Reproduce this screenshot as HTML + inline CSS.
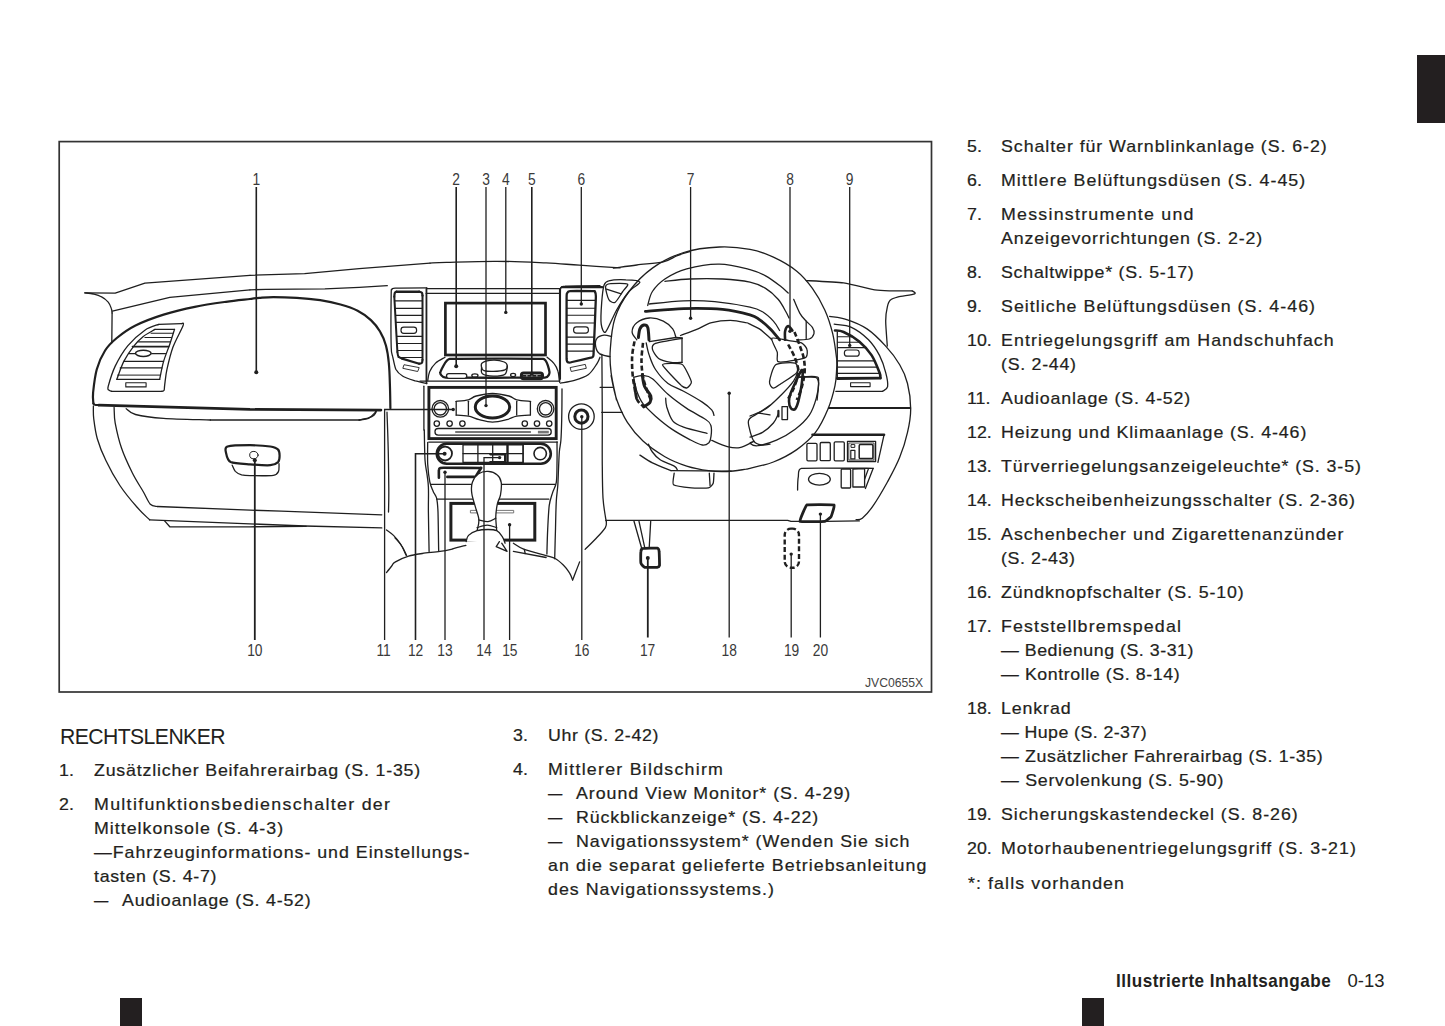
<!DOCTYPE html>
<html lang="de"><head><meta charset="utf-8"><title>Illustrierte Inhaltsangabe 0-13</title>
<style>
html,body{margin:0;padding:0;background:#fff;font-family:"Liberation Sans",sans-serif;}
body{width:1445px;height:1026px;position:relative;overflow:hidden;font-family:"Liberation Sans",sans-serif;}
.t{position:absolute;white-space:pre;line-height:1;margin:0;padding:0;transform-origin:0 0;}
.blk{position:absolute;background:#231f20;}
svg{position:absolute;left:0;top:0;}
</style></head><body>
<div class="blk" style="left:1417px;top:55px;width:28px;height:68px"></div>
<div class="blk" style="left:120px;top:998px;width:22px;height:28px"></div>
<div class="blk" style="left:1081.5px;top:998px;width:22px;height:28px"></div>
<svg width="1445" height="1026" viewBox="0 0 1445 1026" fill="none" stroke="#1f1f1f" stroke-linecap="round" stroke-linejoin="round">
<rect x="59.2" y="141.6" width="872.3" height="550.4" stroke="#333" stroke-width="1.7" stroke-linejoin="miter"/>
<text x="923.2" y="686.7" font-family="Liberation Sans, sans-serif" font-size="12.2" font-weight="400" text-anchor="end" fill="#444" stroke="none">JVC0655X</text>
<text x="0" y="0" font-family="Liberation Sans, sans-serif" font-size="15.6" font-weight="400" text-anchor="middle" fill="#3a3a3a" stroke="none" transform="translate(256.3 184.9) scale(0.885 1)">1</text>
<text x="0" y="0" font-family="Liberation Sans, sans-serif" font-size="15.6" font-weight="400" text-anchor="middle" fill="#3a3a3a" stroke="none" transform="translate(456.2 184.9) scale(0.885 1)">2</text>
<text x="0" y="0" font-family="Liberation Sans, sans-serif" font-size="15.6" font-weight="400" text-anchor="middle" fill="#3a3a3a" stroke="none" transform="translate(486 184.9) scale(0.885 1)">3</text>
<text x="0" y="0" font-family="Liberation Sans, sans-serif" font-size="15.6" font-weight="400" text-anchor="middle" fill="#3a3a3a" stroke="none" transform="translate(505.8 184.9) scale(0.885 1)">4</text>
<text x="0" y="0" font-family="Liberation Sans, sans-serif" font-size="15.6" font-weight="400" text-anchor="middle" fill="#3a3a3a" stroke="none" transform="translate(531.8 184.9) scale(0.885 1)">5</text>
<text x="0" y="0" font-family="Liberation Sans, sans-serif" font-size="15.6" font-weight="400" text-anchor="middle" fill="#3a3a3a" stroke="none" transform="translate(581.3 184.9) scale(0.885 1)">6</text>
<text x="0" y="0" font-family="Liberation Sans, sans-serif" font-size="15.6" font-weight="400" text-anchor="middle" fill="#3a3a3a" stroke="none" transform="translate(690.6 184.9) scale(0.885 1)">7</text>
<text x="0" y="0" font-family="Liberation Sans, sans-serif" font-size="15.6" font-weight="400" text-anchor="middle" fill="#3a3a3a" stroke="none" transform="translate(790 184.9) scale(0.885 1)">8</text>
<text x="0" y="0" font-family="Liberation Sans, sans-serif" font-size="15.6" font-weight="400" text-anchor="middle" fill="#3a3a3a" stroke="none" transform="translate(849.7 184.9) scale(0.885 1)">9</text>
<text x="0" y="0" font-family="Liberation Sans, sans-serif" font-size="15.6" font-weight="400" text-anchor="middle" fill="#3a3a3a" stroke="none" transform="translate(254.8 656.3) scale(0.885 1)">10</text>
<text x="0" y="0" font-family="Liberation Sans, sans-serif" font-size="15.6" font-weight="400" text-anchor="middle" fill="#3a3a3a" stroke="none" transform="translate(383.6 656.3) scale(0.885 1)">11</text>
<text x="0" y="0" font-family="Liberation Sans, sans-serif" font-size="15.6" font-weight="400" text-anchor="middle" fill="#3a3a3a" stroke="none" transform="translate(415.6 656.3) scale(0.885 1)">12</text>
<text x="0" y="0" font-family="Liberation Sans, sans-serif" font-size="15.6" font-weight="400" text-anchor="middle" fill="#3a3a3a" stroke="none" transform="translate(445 656.3) scale(0.885 1)">13</text>
<text x="0" y="0" font-family="Liberation Sans, sans-serif" font-size="15.6" font-weight="400" text-anchor="middle" fill="#3a3a3a" stroke="none" transform="translate(484 656.3) scale(0.885 1)">14</text>
<text x="0" y="0" font-family="Liberation Sans, sans-serif" font-size="15.6" font-weight="400" text-anchor="middle" fill="#3a3a3a" stroke="none" transform="translate(509.8 656.3) scale(0.885 1)">15</text>
<text x="0" y="0" font-family="Liberation Sans, sans-serif" font-size="15.6" font-weight="400" text-anchor="middle" fill="#3a3a3a" stroke="none" transform="translate(581.8 656.3) scale(0.885 1)">16</text>
<text x="0" y="0" font-family="Liberation Sans, sans-serif" font-size="15.6" font-weight="400" text-anchor="middle" fill="#3a3a3a" stroke="none" transform="translate(647.6 656.3) scale(0.885 1)">17</text>
<text x="0" y="0" font-family="Liberation Sans, sans-serif" font-size="15.6" font-weight="400" text-anchor="middle" fill="#3a3a3a" stroke="none" transform="translate(729.2 656.3) scale(0.885 1)">18</text>
<text x="0" y="0" font-family="Liberation Sans, sans-serif" font-size="15.6" font-weight="400" text-anchor="middle" fill="#3a3a3a" stroke="none" transform="translate(791.6 656.3) scale(0.885 1)">19</text>
<text x="0" y="0" font-family="Liberation Sans, sans-serif" font-size="15.6" font-weight="400" text-anchor="middle" fill="#3a3a3a" stroke="none" transform="translate(820.4 656.3) scale(0.885 1)">20</text>
<path d="M84.8 292.8 L115.2 293.1 L144.9 283.1 L250 275.3" stroke-width="1.3"/>
<path d="M84.8 292.8 C86.2 293 90.7 293.4 93.4 294 C96.1 294.7 98.7 295.3 101.2 296.7 C103.7 298 106.5 300.2 108.2 302.1 C109.9 304.1 110.7 306.5 111.3 308.4 C112 310.2 112 312.3 112.1 313" stroke-width="1.3"/>
<path d="M112.1 313 L111.8 342.7" stroke-width="1.3"/>
<path d="M112.4 311.2 L169.8 297.4 L250 289.9" stroke-width="1.3"/>
<path d="M93.4 403.5 C93.3 401.7 92.5 398.3 93.1 392.6 C93.7 386.9 94.8 376.2 96.8 369.2 C98.8 362.2 101.8 355.7 105.1 350.5 C108.4 345.3 111.7 342.2 116.8 338 C121.9 333.8 127.7 329.4 135.5 325.5 C143.3 321.6 153.7 317.7 163.6 314.6 C173.5 311.5 184.4 308.9 194.8 306.8 C205.2 304.7 216.8 303.1 226 301.8 C235.2 300.5 246 299.5 250 299" stroke-width="2.2"/>
<path d="M93.4 403.5 C93.7 403.7 94 404.5 95 404.8 C95.9 405 98.2 405 98.9 405.1" stroke-width="2.2"/>
<path d="M158.9 324.3 C156.6 325.3 150.1 326.6 144.9 330.2 C139.7 333.8 132.7 339.8 127.7 345.8 C122.8 351.8 118.5 359.3 115.2 366.1 C112 372.8 109.3 382.3 108.2 386.3 C107.2 390.4 108.4 389.4 109 390.2 C109.6 391.1 111.3 391.2 111.8 391.3" stroke-width="1.3"/>
<path d="M111.8 391.3 L161.7 391.3" stroke-width="1.3"/>
<path d="M161.7 391.3 C162.1 391.2 163.6 391.3 164.1 390.2 C164.6 389.2 164.2 388.3 164.7 384.8 C165.2 381.3 165.6 375.4 167 369.2 C168.4 362.9 170.3 354.6 172.9 347.3 C175.6 340.1 181.7 329.5 183.1 325.5 C184.5 321.6 181.8 324 181.5 323.6" stroke-width="1.3"/>
<path d="M181.5 323.6 L158.9 324.3" stroke-width="1.3"/>
<path d="M155 329.4 C153.1 330.6 146.8 333.7 143.3 336.4 C139.8 339.2 137.2 341.6 134 345.8 C130.7 349.9 126.7 355.8 123.8 361.4 C121 367 118 376.3 116.8 379.3" stroke-width="1.3"/>
<path d="M116.8 379.3 L159.7 379.3" stroke-width="1.2"/>
<path d="M159.7 379.3 C160.3 376.3 161.9 367.2 163.6 361.4 C165.3 355.5 168 349.6 169.8 344.2 C171.6 338.9 173.7 331.9 174.5 329.4" stroke-width="1.3"/>
<path d="M174.5 329.4 L155 329.4" stroke-width="1.3"/>
<path d="M151.1 333.3 L172.9 333.3" stroke-width="1.1"/>
<path d="M144.9 337.5 L171.4 337.5" stroke-width="1.1"/>
<path d="M138.6 341.9 L170.1 341.9" stroke-width="1.1"/>
<path d="M132.4 346.6 L168.6 346.6" stroke-width="1.6"/>
<path d="M128.5 353.6 L165.5 353.6" stroke-width="1.1"/>
<path d="M123.8 361.4 L163.6 361.4" stroke-width="1.1"/>
<path d="M120.2 367.9 L162 367.9" stroke-width="1.1"/>
<path d="M117.6 375.1 L160.5 375.1" stroke-width="1"/>
<ellipse cx="143.3" cy="353.3" rx="7.8" ry="3.1" stroke-width="1.5" fill="#fff"/>
<rect x="125.8" y="382.8" width="20.3" height="4.1" stroke-width="1.1"/>
<path d="M250 275.3 L304.6 273.7 L359.2 268.6 L430 263.1" stroke-width="1.3"/>
<path d="M250 289.9 L265.6 289.3 L324.9 288.9 L359.2 287.3 L387.3 285.7" stroke-width="1.3"/>
<path d="M250 299 C251.6 298.8 255.5 298.2 259.4 297.9 C263.3 297.6 267.2 297.1 273.4 297.1 C279.6 297.1 289 297.4 296.8 297.9 C304.6 298.4 312.9 299.2 320.2 300.2 C327.5 301.3 334.2 302.7 340.5 304.5 C346.7 306.2 352.6 308.1 357.6 310.7 C362.7 313.3 367.1 316.5 370.9 320.1 C374.7 323.6 377.7 327.5 380.2 331.8 C382.8 336 384.6 340.6 386 345.8 C387.4 351 388.2 356.4 388.8 362.9 C389.5 369.4 389.7 377.2 389.9 384.8 C390.2 392.3 390.3 404.3 390.4 408.2" stroke-width="2.2"/>
<path d="M98.9 405.1 L250 409.4 L381 410.1" stroke-width="2.6"/>
<path d="M376.3 411.6 C376 412.2 375.3 414.2 374 415.2 C372.7 416.2 371 417 368.5 417.9 C366.1 418.7 360.7 419.7 359.2 420" stroke-width="1.3"/>
<path d="M426.7 287.8 C423 287.8 399.1 287.9 395.1 288.1 C391 288.3 392.4 289 391.9 289.6 C391.5 290.3 391.3 286.8 391.2 293.5 C391.1 300.3 391 340 391.2 347.3 C391.3 354.7 392.2 354.2 392.7 356.7 C393.3 359.3 394.7 366.9 395.8 369.2 C397 371.5 400.6 374.8 402.9 376.2 C405.1 377.6 412.6 380 415.3 380.9 C418.1 381.7 425.4 383.2 426.7 383.5" stroke-width="1.3"/>
<path d="M426.7 287.8 L426.7 383.5" stroke-width="1.3"/>
<path d="M396.6 291.7 C396.3 291.9 395.1 292.2 394.8 293.1 C394.4 293.9 394.4 296.1 394.3 296.7" stroke-width="2.2"/>
<path d="M394.3 296.7 L397.4 352" stroke-width="2"/>
<path d="M397.4 352 C397.6 352.8 397.7 355.6 398.5 356.7 C399.3 357.8 401.5 358.3 402.1 358.6" stroke-width="2"/>
<path d="M402.1 358.6 L419.2 363.7" stroke-width="2.2"/>
<path d="M419.2 363.7 C419.7 363.6 421.3 363.6 421.9 362.9 C422.4 362.3 422.4 360.3 422.5 359.8" stroke-width="2.2"/>
<path d="M422.5 359.8 L422.5 295.6" stroke-width="2"/>
<path d="M422.5 295.6 C422.4 295.1 422.4 293.4 421.9 292.8 C421.3 292.1 419.7 291.8 419.2 291.7" stroke-width="2.2"/>
<path d="M419.2 291.7 L396.6 291.7" stroke-width="2.4"/>
<path d="M395.1 300.9 L422.4 300.9" stroke-width="1.1"/>
<path d="M395.5 308.4 L422.4 308.4" stroke-width="1.1"/>
<path d="M395.9 315.4 L422.4 315.4" stroke-width="1.1"/>
<path d="M396.3 322.4 L422.4 322.4" stroke-width="1.1"/>
<path d="M397 336.4 L422.4 336.4" stroke-width="1.1"/>
<path d="M397.4 343.5 L422.4 343.5" stroke-width="1.1"/>
<path d="M397.8 350.5 L422.4 350.5" stroke-width="1.1"/>
<path d="M398.2 357.5 L422.4 357.5" stroke-width="1.1"/>
<rect x="401" y="327.1" width="15.6" height="6.2" stroke-width="1.2" fill="#fff" rx="2.8"/>
<path d="M404.4 364.8 L419.2 367.6 L417.7 371.5 L403.2 368.4 Z" stroke-width="0.9"/>
<path d="M93.4 405.9 C93.4 408 93.1 412.9 93.7 418.4 C94.4 423.9 95.3 431.7 97.3 438.7 C99.3 445.7 102.1 452.7 105.9 460.5 C109.6 468.3 114.7 477.7 119.9 485.5 C125.1 493.3 132.1 501.6 137.1 507.3 C142 513 147.5 517.7 149.6 519.8" stroke-width="1.3"/>
<path d="M149.6 519.8 L304.6 526 L381.8 527.9" stroke-width="1.3"/>
<path d="M114.1 407.5 C114.3 410.1 114 416.3 115.2 423.1 C116.5 429.8 118.6 439.7 121.5 448 C124.3 456.4 128.8 465.7 132.4 473 C136 480.3 140.3 486.5 143.3 491.7 C146.3 496.9 148 501.7 150.3 504.2 C152.7 506.7 156.2 506.1 157.3 506.5" stroke-width="1.3"/>
<path d="M157.3 506.5 L250 510.1 L281.2 511.2 L381.8 514.8" stroke-width="1.3"/>
<path d="M126.2 408.7 C127.7 409.7 129.3 412.9 135.5 414.5 C141.8 416.1 151.1 417.5 163.6 418.4 C176.1 419.3 202.6 419.7 210.4 420" stroke-width="1.3"/>
<path d="M210.4 420 L359.2 420" stroke-width="1.3"/>
<path d="M359.2 420 C360.7 419.7 365.9 419.6 368.5 418.4 C371.1 417.2 373.6 414.2 374.8 412.9 C376 411.6 375.6 411 375.7 410.6" stroke-width="1.3"/>
<path d="M164.4 520.6 L169.8 526.8 L250 526.8 L306.2 526.3" stroke-width="1.3"/>
<path d="M250 445.2 C244.3 445.2 230.7 445.5 227.5 446.5 C224.3 447.5 225.6 450.6 226 452.7 C226.4 454.8 227.5 460.5 230.7 462.1 C233.9 463.6 244.7 464 250 464.4 C255.3 464.8 266.5 465.5 270.3 465.2 C274 464.9 276.8 463.3 278.1 462.1 C279.3 460.8 279.6 457.5 279.6 455.8 C279.6 454.2 279.3 450.8 278.1 449.6 C276.8 448.3 274 447.1 270.3 446.5 C266.5 445.9 255.7 445.2 250 445.2 Z" stroke-width="2.2"/>
<path d="M232.2 465.2 C232.6 466 234.1 470.1 235.3 471.4 C236.6 472.7 239.6 474.3 241.6 474.9 C243.5 475.4 245.8 475.6 250 475.6 C254.2 475.7 269.6 475.9 273.4 475.3 C277.2 474.8 277.8 473 278.5 471.4 C279.3 469.9 279 464.7 279 463.6" stroke-width="1.3"/>
<ellipse cx="253.9" cy="455.1" rx="4.2" ry="3.7" stroke-width="1"/>
<path d="M387 412.2 C387.1 417.1 387.7 429.1 388 441.8 C388.4 454.5 388.7 476.9 388.8 488.6 C388.9 500.3 388.6 508.1 388.5 512" stroke-width="1.3"/>
<path d="M386.5 529.9 C387.7 530.8 391.2 533 393.5 535.4 C395.8 537.7 398.4 540.7 400.5 544 C402.6 547.2 405.1 553.2 406 555" stroke-width="1.3"/>
<path d="M426.2 382.3 L426.2 288.7 L559.6 288.7 L559.6 382.3" stroke-width="1.3"/>
<path d="M426.2 293.4 L559.6 293.4" stroke-width="1.3"/>
<rect x="445.4" y="303.1" width="100.1" height="51.9" stroke-width="2.7" stroke-linejoin="miter"/>
<path d="M427.8 380.4 C428.1 378.9 428.4 374.3 429.7 371.4 C431 368.5 433.1 365.5 435.6 363.1 C438.1 360.8 443.4 358.3 445 357.3" stroke-width="1.3"/>
<path d="M547.1 357.3 C548.3 358.4 552.3 361.2 554.1 363.6 C556 365.9 557.2 368.6 558 371.4 C558.9 374.2 559.1 378.9 559.3 380.4" stroke-width="1.3"/>
<path d="M449.6 358.9 C453.8 358.4 539.2 358.4 543.2 358.9 C547.2 359.4 549.4 371.4 549.5 372.2 C549.5 372.9 548.9 377.4 544.8 377.6 C540.6 377.8 449.9 377.8 445.7 377.6 C441.6 377.4 440.1 373.4 440.3 372.6 C440.4 371.9 445.5 359.5 449.6 358.9 Z" stroke-width="2.3"/>
<path d="M481.6 367.5 C481.4 366.2 480.4 364 482.4 362.8 C484.3 361.6 489.7 360.3 493.3 360.2 C497 360 501.9 361.1 504.2 362 C506.6 363 507.2 364.6 507.3 365.9 C507.5 367.2 507.3 368.9 505 369.8 C502.7 370.7 496.8 371.3 493.3 371.4 C489.8 371.5 485.9 371.3 484 370.6 C482 370 481.9 368.8 481.6 367.5 Z" stroke-width="1.3" fill="#fff"/>
<path d="M481.6 367.5 C481.7 368.5 480.4 372.3 482.4 373.7 C484.3 375.2 489.5 376 493.3 376.1 C497.1 376.1 502.7 375.9 505 374.2 C507.3 372.5 507 367.3 507.3 365.9" stroke-width="1.3"/>
<rect x="446.5" y="373.7" width="20.3" height="4.7" stroke-width="1.3" fill="#fff" rx="2.3"/>
<ellipse cx="474.9" cy="375.4" rx="3.1" ry="1.6" stroke-width="1.3" fill="#fff"/>
<ellipse cx="513.1" cy="375" rx="2.5" ry="1.6" stroke-width="1.3" fill="#fff"/>
<rect x="521.4" y="372.9" width="21.1" height="5.8" stroke-width="3" rx="2.2"/>
<path d="M522.9 375.9 L540.9 375.9" stroke-width="1.6" stroke-dasharray="3 2"/>
<path d="M420 381.1 L559.6 381.1" stroke-width="1.3"/>
<rect x="428.9" y="387.4" width="127.3" height="51.2" stroke-width="2.9" stroke-linejoin="miter"/>
<path d="M423.9 386.2 L423.9 430" stroke-width="1.3"/>
<ellipse cx="492.5" cy="407" rx="17.2" ry="10.9" stroke-width="3"/>
<path d="M456.2 401.3 C458.2 401.1 465 400.7 468.4 399.8 C471.7 398.9 472.1 397.1 476.2 396 C480.2 395 487.1 393.5 492.5 393.5 C498 393.5 504.9 395 508.9 396 C512.9 397.1 513.2 398.9 516.7 399.8 C520.2 400.7 527.8 401.1 530 401.3" stroke-width="1.3"/>
<path d="M456.2 415.1 C458.2 415.2 464.5 415.4 468.4 416.2 C472.2 416.9 475.2 418.8 479.3 419.7 C483.3 420.7 488 422.1 492.5 422.1 C497.1 422.1 502.5 420.7 506.6 419.7 C510.6 418.8 512.8 416.9 516.7 416.2 C520.6 415.4 527.8 415.2 530 415.1" stroke-width="1.3"/>
<path d="M456.2 401.3 L456.2 415.1" stroke-width="1.3"/>
<path d="M468.4 401.3 L468.4 415.1" stroke-width="1.3"/>
<path d="M516.7 401.3 L516.7 415.1" stroke-width="1.3"/>
<path d="M530.4 401.3 L530.4 415.1" stroke-width="1.3"/>
<ellipse cx="440.3" cy="408.8" rx="8.3" ry="8.3" stroke-width="1.3"/>
<ellipse cx="440.3" cy="408.8" rx="6.2" ry="6.2" stroke-width="1.4"/>
<ellipse cx="545.6" cy="408.8" rx="8.3" ry="8.3" stroke-width="1.3"/>
<ellipse cx="545.6" cy="408.8" rx="6.2" ry="6.2" stroke-width="1.4"/>
<ellipse cx="436.8" cy="423.6" rx="2.7" ry="2.7" stroke-width="1.3"/>
<ellipse cx="449.6" cy="423.6" rx="2.7" ry="2.7" stroke-width="1.3"/>
<ellipse cx="462.4" cy="423.6" rx="2.7" ry="2.7" stroke-width="1.3"/>
<ellipse cx="524.8" cy="423.6" rx="2.7" ry="2.7" stroke-width="1.3"/>
<ellipse cx="537" cy="423.6" rx="2.7" ry="2.7" stroke-width="1.3"/>
<ellipse cx="549.2" cy="423.6" rx="2.7" ry="2.7" stroke-width="1.3"/>
<path d="M600 285.6 C596.5 285.6 568.9 285.8 565.1 286.1 C561.2 286.3 561.6 287.2 561.2 287.9 C560.7 288.7 560.5 284.3 560.4 293.4 C560.3 302.5 560.4 370.6 560.4 379.2" stroke-width="1.3"/>
<path d="M560.4 383.1 C562.7 382.6 569.7 381.9 574.4 380.4 C579.1 379 584.7 377.3 588.5 374.5 C592.2 371.7 595.1 366.4 597 363.6 C599 360.7 599.5 358.4 600 357.3" stroke-width="1.3"/>
<path d="M594.7 291.1 C593.5 291.1 571.1 290.9 569.7 291.1 C568.4 291.2 567.1 293 566.9 293.4 C566.8 293.7 566.6 294.8 566.6 298.1 C566.6 301.4 566.5 355.7 566.6 358.9 C566.7 362.1 567.9 362.2 568.2 362.3 C568.5 362.5 571 362.3 572.1 362 C573.2 361.8 589.7 358 590.8 357.7 C591.9 357.3 593.2 358.1 593.5 355 C593.7 352 595.9 299.7 595.9 296.5 C596 293.3 594.8 291.3 594.7 291.1" stroke-width="2.3"/>
<path d="M567.1 300.4 L595 300.4" stroke-width="1.1"/>
<path d="M567.1 308.2 L594.8 308.2" stroke-width="1.1"/>
<path d="M567.1 315.2 L594.5 315.2" stroke-width="1.1"/>
<path d="M567.1 323 L594.3 323" stroke-width="1.1"/>
<path d="M567.1 337.1 L594.1 337.1" stroke-width="1.1"/>
<path d="M567.1 344.1 L593.8 344.1" stroke-width="1.1"/>
<path d="M567.1 351.1 L593.6 351.1" stroke-width="1.1"/>
<rect x="573.6" y="326.9" width="14.8" height="6.2" stroke-width="1.2" fill="#fff" rx="2.8"/>
<path d="M570.5 367.5 L585.3 364.4 L586.3 368.3 L571.6 371.4 Z" stroke-width="0.9"/>
<ellipse cx="581.4" cy="416.6" rx="12.8" ry="12.8" stroke-width="1.3"/>
<ellipse cx="581.4" cy="416.6" rx="6.6" ry="6.6" stroke-width="3"/>
<rect x="435" y="428.5" width="116.2" height="6.7" stroke-width="1.3" rx="3.1"/>
<path d="M455.2 432.1 L530.9 432.1" stroke-width="2" stroke="#777" stroke-linecap="butt"/>
<path d="M537.9 432.1 L548.8 432.1" stroke-width="2.6" stroke="#777" stroke-linecap="butt"/>
<path d="M428.7 442.1 L557.4 442.1" stroke-width="1.3"/>
<rect x="436.8" y="443.7" width="114" height="20" stroke-width="2.6" rx="10"/>
<ellipse cx="445.1" cy="453.6" rx="6.9" ry="6.9" stroke-width="1.8"/>
<ellipse cx="540.2" cy="453.6" rx="6.2" ry="6.2" stroke-width="1.6"/>
<rect x="463" y="444.9" width="60.1" height="17.5" stroke-width="1.3"/>
<path d="M477.9 444.9 L477.9 462.4" stroke-width="1.3"/>
<path d="M492.7 444.9 L492.7 462.4" stroke-width="1.3"/>
<path d="M523.1 444.9 L523.1 462.4" stroke-width="1.3"/>
<path d="M507.5 444.6 L507.5 462.7" stroke-width="2.4"/>
<path d="M463 453.6 L523.1 453.6" stroke-width="1.3"/>
<path d="M490.3 454.3 L505.1 454.3 L505.1 462.1 L490.3 462.1" stroke-width="2.2"/>
<path d="M438.9 477.7 C438.9 477.2 438.8 470.5 438.9 469.9 C439 469.2 440.1 468.1 440.4 468 C440.7 467.9 440.8 467.7 443.5 467.7 C446.2 467.7 478.5 468 481 468" stroke-width="2.6"/>
<path d="M481 468 L475.5 476.9 L447.4 476.9" stroke-width="2.8"/>
<path d="M431.1 484.4 L472.4 484.4" stroke-width="1.3"/>
<path d="M501.2 484.4 L555.1 484.4" stroke-width="1.3"/>
<path d="M436.8 499.2 L474.3 499.2" stroke-width="1.3"/>
<path d="M498.9 499.2 L548.8 499.2" stroke-width="1.3"/>
<rect x="450.9" y="503.4" width="83.9" height="36.7" stroke-width="3" stroke-linejoin="miter"/>
<rect x="470.8" y="510.4" width="42.9" height="2.5" stroke-width="0.9" stroke="#666"/>
<path d="M477.1 530.7 C477.4 528.9 479.2 523.7 478.9 519.8 C478.7 515.9 476.7 511.7 475.5 507.3 C474.3 502.9 472.3 497.4 471.8 493.3 C471.2 489.1 471.2 485.6 472.4 482.3 C473.5 479.1 476 475.6 478.6 473.8 C481.2 472 484.9 471.2 488 471.4 C491.1 471.6 495.1 473 497.3 474.9 C499.6 476.7 500.7 479 501.2 482.3 C501.8 485.7 501.1 491.2 500.5 494.8 C499.8 498.5 498.1 500.5 497.3 504.2 C496.6 507.8 495.9 512.2 495.8 516.7 C495.7 521.1 496.6 528.4 496.7 530.7" stroke-width="1.3" fill="#fff"/>
<path d="M466.2 541.6 C466.5 540.6 466.7 537.2 468.5 535.4 C470.3 533.6 473.8 531.7 477.1 530.7 C480.3 529.7 484.7 529.5 488 529.5 C491.3 529.5 494.4 529.6 496.7 530.7 C499.1 531.8 500.6 534.1 502 536.2 C503.4 538.2 504.6 542 505.1 543.2" stroke-width="1.3" fill="#fff"/>
<path d="M478.6 519.8 C480.2 520.1 485.1 521.9 488 521.7 C490.9 521.4 494.5 518.8 495.8 518.2" stroke-width="1.3"/>
<path d="M477.1 527.6 C478.8 527.2 483.9 525.2 487.2 525.2 C490.5 525.2 495.1 527.2 496.7 527.6" stroke-width="1.3"/>
<path d="M424.3 430 C424.4 435 424.6 452.5 425 460 C425.5 467.5 426.5 470.5 427.1 475 C427.6 479.6 428.2 481.2 428.4 487.3 C428.7 493.4 428.3 501.2 428.4 511.9 C428.5 522.5 429 544.8 429.1 551.4" stroke-width="1.3"/>
<path d="M427.7 442.3 C427.7 445.9 427.4 457.5 427.7 464.1 C428.1 470.7 428.9 477.3 429.8 481.8 C430.7 486.4 432.1 488.7 433.2 491.4 C434.3 494.1 435.8 494.8 436.6 498.2 C437.4 501.6 437.6 503 438 511.9 C438.3 520.7 438.5 544.8 438.7 551.4" stroke-width="1.3"/>
<path d="M386.5 572.6 C387.4 571.5 390.3 567.8 391.7 566 C393.1 564.3 392.2 563.7 395 562.1 C397.8 560.4 404.1 557.6 408.6 556.2 C413.2 554.8 417.1 554.3 422.3 553.5 C427.5 552.7 435 552.2 440 551.4 C445 550.7 448 550 452.3 549 C456.6 547.9 463.7 545.9 465.9 545.3" stroke-width="1.3"/>
<path d="M395 537.8 C396.1 539.1 399.9 543 401.8 546 C403.8 548.9 405.8 553.9 406.6 555.5" stroke-width="1.3"/>
<path d="M562 388.8 C562 394 561.9 411.4 561.7 420 C561.5 428.6 561.3 435.1 560.9 440.3 C560.5 445.5 559.8 446.8 559.4 451.2 C559 455.6 558.9 461.1 558.6 466.8 C558.3 472.5 558.2 479.8 557.8 485.5 C557.4 491.2 556.7 493.8 556.3 501.1 C555.9 508.3 555.7 519.5 555.5 529.1 C555.2 538.8 554.8 553.8 554.7 558.8" stroke-width="1.3"/>
<path d="M557 441.8 C557 445.5 557.2 456.9 557 463.7 C556.9 470.4 557 477.4 556.3 482.4 C555.5 487.3 553.5 489.4 552.4 493.3 C551.2 497.2 550 499.8 549.2 505.7 C548.5 511.7 548.1 521.1 547.7 529.1 C547.3 537.2 547 549.9 546.9 554.1" stroke-width="1.3"/>
<path d="M513.4 543.2 C515.2 544.2 518.8 547.3 524.3 549.4 C529.8 551.5 540.9 554.1 546.1 555.6 C551.3 557.2 552.6 557.2 555.5 558.8 C558.3 560.3 560.9 562.7 563.3 565 C565.6 567.3 568 570.3 569.5 572.8 C571.1 575.3 572.1 578.8 572.6 580" stroke-width="1.3"/>
<path d="M513.4 551.3 L546.1 557.5" stroke-width="1.3"/>
<path d="M524.3 549.4 L525.2 553.5" stroke-width="1.3"/>
<path d="M499.4 541.6 L496.2 546.6 L507.1 551.3 L501.7 543.2" stroke-width="1.3"/>
<path d="M572.6 580 C573.2 578.6 574.6 575 575.7 572 C576.9 569 579 563.6 579.6 561.9" stroke-width="1.3"/>
<path d="M601.9 354.5 C602 365.4 602.2 401.3 602.3 420 C602.3 438.7 602.1 453.8 602.3 466.8 C602.4 479.8 602.5 489.6 603 498 C603.6 506.3 604.8 512.8 605.4 516.7 C605.9 520.5 606.2 520.3 606.3 521" stroke-width="1.3"/>
<path d="M585.1 549.4 C586.9 547.6 592.6 542.1 596 538.5 C599.4 534.9 603.7 530.5 605.4 527.6 C607.1 524.7 606.2 522.1 606.3 521" stroke-width="1.3"/>
<path d="M430 263.1 C432.7 263 435.4 262.7 446.4 262.4 C457.5 262.1 479.7 261.2 496.3 261.3 C512.9 261.3 532.2 262.3 546.1 262.9 C559.9 263.6 567 264.4 579.3 265.2 C591.6 266.1 613.2 267.5 620 267.9" stroke-width="1.3"/>
<path d="M561.9 287.2 L602.2 287.2" stroke-width="2.2"/>
<path d="M613.4 268.1 C617.3 267.6 628.5 266 636.8 265 C645.1 263.9 656.6 263.4 663.3 261.8 C670.1 260.3 672.9 257.3 677.3 255.6 C681.8 253.9 687.7 252.3 689.8 251.7" stroke-width="1.3"/>
<path d="M604 285.2 C605 282.4 605.8 281.6 608.7 280.9 C611.6 280.1 621.7 279.6 625.9 279.8 C630 279.9 639.5 280.6 639.9 282.1 C640.3 283.7 632.1 287.7 629 291.5 C625.9 295.2 619.6 304.8 616.5 310.2 C613.4 315.6 607.6 330.2 605.6 332 C603.6 333.9 601.8 328.2 601.2 324.2 C600.7 320.3 601.3 307.6 601.7 302.4 C602.1 297.2 603.1 288.1 604 285.2 Z" stroke-width="1.3"/>
<path d="M605.6 286.8 C605.8 284.7 607.4 284 610.3 283.7 C613.2 283.3 625.8 282.9 627.4 284 C629.1 285 624.4 289 622.8 291.5 C621.1 293.9 616.8 301.4 615 302.4 C613.1 303.4 610 301.4 608.7 299.3 C607.5 297.2 605.4 288.9 605.6 286.8 Z" stroke-width="1.3"/>
<path d="M606.4 289.1 L621.2 293.8" stroke-width="1.3"/>
<path d="M610 356.7 C608.2 356.2 601.8 355.3 599.4 353.6 C597 351.8 596 348.6 595.6 346.1 C595.2 343.5 595.5 340.1 596.9 338.3 C598.3 336.4 601.6 335.5 604 335.1 C606.5 334.8 610.3 336.2 611.5 336.4" stroke-width="1.3"/>
<path d="M600.1 387.3 L612.6 387.3" stroke-width="1.3"/>
<path d="M601.7 412.3 L622.4 412.3" stroke-width="1.3"/>
<path d="M616.5 400 C616.5 399.5 612.1 381.1 611.1 372.6 C610 364.1 609.6 358.3 610.3 349.2 C610.9 340.1 611.8 327.6 615 318 C618.1 308.4 622.8 299.8 629 291.5 C635.2 283.2 643.3 274.6 652.4 268.1 C661.5 261.6 672.4 256 683.6 252.5 C694.8 249 708.4 247.5 719.5 247 C730.5 246.5 741 247.7 750 249.4 C759 251 765.6 253.5 773.4 257.2 C781.2 260.8 790.3 266 796.8 271.2 C803.3 276.4 807.7 281.9 812.4 288.4 C817.1 294.9 821.5 302.7 824.9 310.2 C828.3 317.7 830.7 325.5 832.7 333.6 C834.6 341.6 835.9 352.5 836.6 358.5 C837.2 364.6 836.8 365.5 836.6 370 C836.3 374.5 836.4 379.1 835 385.6 C833.6 392.1 831.2 401.2 828 409 C824.7 416.8 820.7 425.6 815.5 432.4 C810.3 439.2 803.8 444.6 796.8 449.6 C789.8 454.5 781.2 458.9 773.4 462 C765.6 465.1 754.6 467.1 750 468.3 C745.4 469.5 749.8 468.6 746 469.2 C742.2 469.7 733.5 471.3 727.3 471.5 C721 471.8 715.3 471.7 708.5 470.7 C701.8 469.8 694 468.4 686.7 466.1 C679.4 463.7 672.2 460.9 664.9 456.7 C657.6 452.5 649.3 446.8 643 441.1 C636.8 435.4 631.9 429.4 627.4 422.4 C623 415.4 619.2 406.8 616.5 399 C613.8 391.2 611.1 375.4 611.1 375.6 C611.1 375.8 616.5 400.5 616.5 400 Z" stroke-width="1.3"/>
<path d="M647.7 305.5 C648.5 303.2 649.5 295.9 652.4 291.5 C655.3 287.1 659.2 282.8 664.9 279 C670.6 275.2 677.6 271.3 686.7 268.9 C695.8 266.4 708.9 264 719.5 264.2 C730 264.3 742.3 267.7 750 269.6 C757.7 271.6 760.4 273 765.6 275.9 C770.8 278.7 777.4 283.9 781.2 286.8 C785 289.7 787 292 788.2 293" stroke-width="1.3"/>
<path d="M664.9 281.3 C669 280.9 680.2 279.4 689.8 279 C699.4 278.6 712.6 278.5 722.6 279 C732.6 279.5 742.8 280.6 750 282.1 C757.2 283.7 760.9 285.5 765.6 288.4 C770.3 291.2 774.7 295.4 778.1 299.3 C781.5 303.2 784.1 308.6 785.9 311.8 C787.7 314.9 788.5 317 789 318" stroke-width="1.3"/>
<path d="M649.3 304 C655 303.4 672.7 301.2 683.6 300.8 C694.5 300.4 703.7 300.6 714.8 301.6 C725.9 302.7 742.1 305.4 750 307.1 C757.9 308.8 758.6 309.4 762.5 311.8 C766.4 314.1 770.5 318 773.4 321.1 C776.3 324.2 778.6 328.9 779.6 330.5" stroke-width="1.3"/>
<path d="M645.4 311.4 C651.7 311 670.7 309 683.6 308.6 C696.5 308.3 711.5 308.4 722.6 309.4 C733.7 310.5 743.9 313.2 750 314.9 C756.1 316.6 756 317.2 759.4 319.6 C762.7 321.9 766.9 325.5 770.3 328.9 C773.7 332.3 778.1 338 779.6 339.8" stroke-width="2.8"/>
<path d="M680.5 335.5 C683.1 334.5 690.9 331.8 696.1 329.7 C701.3 327.6 705.9 324.2 711.7 322.7 C717.4 321.1 724.7 320.3 730.4 320.3 C736.1 320.3 742.7 322 746 322.7 C749.3 323.3 747.8 323.2 750 324.2 C752.2 325.3 756.2 326.8 759.4 328.9 C762.5 331 766.6 334.9 768.7 336.7 C770.8 338.5 771.3 339.3 771.8 339.8" stroke-width="1.3"/>
<path d="M636.8 339.8 C636 338.5 632.1 334.9 632.1 332 C632.1 329.2 633.9 325 636.8 322.7 C639.7 320.3 644.9 318.3 649.3 318 C653.7 317.7 659.4 319.3 663.3 321.1 C667.2 322.9 670.6 326.3 672.7 328.9 C674.8 331.6 675.3 335.7 675.8 337" stroke-width="1.3"/>
<path d="M638.4 337.5 C638.6 336.1 639 331 639.9 328.9 C640.8 326.8 642.5 325.3 643.8 325 C645.1 324.8 646.9 324.9 647.7 327.3 C648.6 329.8 648.8 337.7 649 339.8" stroke-width="3"/>
<path d="M634.5 341.4 C634.1 344 632.4 351 632.1 357 C631.9 363 632.1 370.1 632.9 377.3 C633.7 384.4 636.5 399 636.8 400 C637.1 401.1 634.5 383.6 634.5 383.4 C634.5 383.2 635.2 395.1 636.8 399 C638.4 402.9 642.6 405.5 643.8 406.8" stroke-width="2.6" stroke-dasharray="5 2.6" stroke-linecap="butt"/>
<path d="M643 342.9 C642.8 346.1 641.3 355.4 641.5 361.7 C641.6 367.9 642.3 374 643.8 380.4 C645.4 386.8 649.7 396.8 650.8 400" stroke-width="2.6" stroke-dasharray="5 2.6" stroke-linecap="butt"/>
<path d="M642.3 374.8 C642.6 376.8 643.2 383 644.6 386.5 C646 390 649.9 393.3 650.8 395.9 C651.7 398.5 651.2 400.3 650.1 402.1 C648.9 403.9 644.9 406 643.8 406.8" stroke-width="3"/>
<path d="M682 338.3 C678.5 338.9 659.5 341.8 655.5 343.3 C651.6 344.7 652 347.1 652.4 349.2 C652.8 351.2 656.1 356.8 658.6 358.5 C661.1 360.3 668 361.9 671.1 362.4 C674.2 363 680.6 362.4 682 362.4" stroke-width="1.3"/>
<path d="M682 338.3 L682 362.4" stroke-width="1.3"/>
<path d="M649.3 341.7 L675.8 337.5 L682.3 338" stroke-width="1.3"/>
<path d="M646.2 342.9 C646.7 345 647.7 351 649.3 355.4 C650.8 359.8 652.4 364.8 655.5 369.5 C658.6 374.1 663.3 379.9 668 383.5 C672.7 387.1 677.9 388.1 683.6 391.2 C689.3 394.3 697.6 399 702.3 402.1 C707 405.2 709.7 407.7 711.7 409.9 C713.6 412.1 713.6 414.5 714 415.4" stroke-width="1.3"/>
<path d="M662.5 364.8 C662.6 363 679.9 363 682.3 364.5 C684.7 365.9 691 380 691.4 381.9 C691.8 383.9 687.9 387.6 687 387.9 C686.2 388.2 683.3 387.3 681.2 385.4 C679.2 383.5 662.4 366.5 662.5 364.8 Z" stroke-width="1.3"/>
<path d="M633.7 377.2 C634.2 379.5 635.2 386.8 636.8 391.2 C638.4 395.6 639.9 399.5 643 403.7 C646.2 407.8 650.8 412 655.5 416.2 C660.2 420.3 665.4 424.7 671.1 428.6 C676.8 432.5 684.6 436.8 689.8 439.6 C695 442.3 699.1 444.5 702.3 445 C705.5 445.5 707.4 444.1 708.9 442.7 C710.3 441.2 710.7 439.3 711 436.4 C711.4 433.6 711.8 428.4 710.9 425.5 C710 422.7 709.5 422.1 705.4 419.3 C701.4 416.4 692.9 412.5 686.7 408.4 C680.5 404.2 673.7 399.3 668 394.3 C662.3 389.4 656.6 381.8 652.4 378.7 C648.2 375.6 646.2 375.9 643 375.6 C639.9 375.3 635.2 376.9 633.7 377.2" stroke-width="1.3"/>
<path d="M665.7 398.2 C665.8 399.6 665.6 403 666.7 406.8 C667.9 410.6 669.9 417.5 672.7 420.8 C675.5 424.2 677.9 425 683.6 427.1 C689.3 429.2 703.1 432.3 707 433.3" stroke-width="1.3"/>
<path d="M711.7 440.3 C714.3 441.4 722.6 445.3 727.3 446.6 C731.9 447.8 735.3 448.5 739.7 447.7 C744.2 446.8 752.1 442.1 753.8 441.4 C755.5 440.7 749.3 442.6 750 443.3 C750.7 444 753.4 446.2 757.8 445.7 C762.2 445.1 770.3 442.9 776.5 440.2 C782.8 437.5 789.8 433.4 795.2 429.3 C800.7 425.1 805.8 420.4 809.3 415.2 C812.8 410 814.7 403.8 816.3 398.1 C817.9 392.4 818.8 384.5 818.6 380.9 C818.5 377.3 818.9 377.2 815.5 376.6 C812.1 375.9 801.2 376.9 798.4 377" stroke-width="1.3"/>
<path d="M770 405.2 C768.1 406.5 761.9 410.7 758.5 413 C755 415.4 750.7 416.9 749.1 419.3 C747.5 421.6 748.3 423.4 749.1 427.1 C749.9 430.7 751.7 438.1 753.8 441.1 C755.9 444.1 758.9 444.5 761.6 445 C764.3 445.5 768.6 444.4 770 444.2" stroke-width="1.3"/>
<path d="M758.5 413 L770 414.9" stroke-width="1.3"/>
<path d="M750 416 C752.6 414.8 760.4 412.5 765.6 409 C770.8 405.5 776.5 399.6 781.2 395 C785.9 390.3 790.8 385.1 793.7 380.9 C796.5 376.8 797.6 371.8 798.4 370" stroke-width="1.3"/>
<path d="M750 437.1 C752.1 436.3 758.6 434.7 762.5 432.4 C766.4 430.1 770.7 426.2 773.4 423 C776 419.9 777.6 415.2 778.4 413.7" stroke-width="1.3"/>
<rect x="782" y="406.7" width="5.5" height="12.9" stroke-width="1.3"/>
<path d="M778.4 410.9 L778.4 416.5" stroke-width="2.2"/>
<path d="M648.5 444.2 C649.1 445.5 650.4 449.4 652.4 452 C654.3 454.6 656.6 457.5 660.2 459.8 C663.8 462.2 671.4 464.4 674.2 466.1 C677.1 467.8 676.8 469.3 677.3 470" stroke-width="1.3"/>
<path d="M639.9 455.1 C642 456.4 647.2 460.3 652.4 462.9 C657.6 465.5 668 469.4 671.1 470.7" stroke-width="1.3"/>
<path d="M671.1 470.7 L731.2 471.1" stroke-width="1.3"/>
<path d="M674.2 473.1 C674.2 474.1 672 483.6 673.5 484.8 C674.9 486 688.5 487.6 691.4 487.9 C694.3 488.2 706.7 488.3 708.5 487.9 C710.4 487.5 712.8 484.5 713.2 483.2 C713.7 482 713.9 473.9 714 473.1" stroke-width="1.3"/>
<path d="M709.3 473.1 L710.1 485.6" stroke-width="1.3"/>
<path d="M771.8 338.3 C773.2 336.9 785.5 340.1 789 340.6 C792.5 341.2 799.4 341.9 801.5 342.9 C803.6 343.9 806.4 347.5 806.9 349.2 C807.5 350.8 807.5 355.7 806.2 357 C804.8 358.3 798.5 359.6 795.2 360.1 C792 360.7 780.2 362.6 778.1 361.7 C776 360.8 778 355 777.3 352.3 C776.6 349.6 770.5 339.6 771.8 338.3 Z" stroke-width="1.3"/>
<path d="M775.7 364.8 C778.7 362.6 792.8 362.3 795.2 363.2 C797.7 364.1 798.4 370.2 796.8 372.6 C795.2 375 783.9 381.7 781.2 383.5 C778.5 385.3 774.8 388.4 773.4 388.2 C772 388 769.2 384.7 769.5 381.9 C769.8 379.2 772.7 367 775.7 364.8 Z" stroke-width="1.3"/>
<path d="M793.7 299.3 C794.7 301.6 797.8 309.7 799.9 313.3 C802 317 804.1 318.8 806.2 321.1 C808.2 323.5 811.1 325.3 812.4 327.3 C813.7 329.4 814.5 331.6 814 333.6 C813.4 335.5 812.1 338 809.3 339 C806.4 340.1 798.9 339.7 796.8 339.8" stroke-width="1.3"/>
<path d="M806.2 321.1 L806.2 338.6" stroke-width="1.3"/>
<path d="M785.1 339.8 C785.1 338.4 784.6 333.5 785.1 331.2 C785.6 329 787 326.2 788.2 326.1 C789.4 326 791.7 329.7 792.4 330.5" stroke-width="2.6"/>
<path d="M794.5 332 C795.4 334.4 798.4 341.6 799.9 346.1 C801.5 350.5 803 354.1 803.8 358.5 C804.6 363 805 367.6 804.6 372.6 C804.2 377.5 802.8 383.6 801.5 388.2 C800.2 392.8 797.6 398.1 796.8 400" stroke-width="2.6" stroke-dasharray="5 2.6" stroke-linecap="butt"/>
<path d="M788.2 344.5 C789.4 346.8 793.5 353.9 795.2 358.5 C796.9 363.2 798.6 367.6 798.4 372.6 C798.1 377.5 795.5 383.6 793.7 388.2 C791.9 392.8 788.5 398.1 787.4 400" stroke-width="2.6" stroke-dasharray="5 2.6" stroke-linecap="butt"/>
<path d="M803 370 C802.8 372.6 802.3 380.4 801.5 385.6 C800.7 390.8 799.4 397.3 798.4 401.2 C797.3 405.1 796.5 407.8 795.2 409 C794 410.2 791.9 409.5 790.9 408.2 C789.8 406.9 789 403.7 789 401.2 C788.9 398.7 789.3 397 790.6 393.4 C791.9 389.8 795 383.3 796.8 379.4 C798.6 375.5 800.7 371.6 801.5 370" stroke-width="2.6"/>
<path d="M798.4 377.3 C800.1 377.3 813.5 376.6 815.5 377.3 C817.5 377.9 818.5 381.2 818.6 383.5 C818.8 385.8 817.2 398.4 817.1 400" stroke-width="1.3"/>
<path d="M806.2 280.6 C809.9 280.8 836.7 282 843.6 282.9 C850.5 283.8 870.1 289.1 874.8 289.9 C879.5 290.7 886.6 290.8 890.4 290.9 C894.1 290.9 910 290.9 912.2 290.9" stroke-width="1.3"/>
<path d="M912.2 290.9 C912.6 291.2 916.6 293 914.7 293.8 C912.8 294.6 901.4 296.1 898.2 296.9 C894.9 297.8 891.8 298.7 890.4 300.1 C888.9 301.4 887.9 304.3 887.3 307.1 C886.6 309.9 885.7 315.9 885.7 321.1 C885.7 326.3 887.1 342.7 887.3 346.1" stroke-width="1.3"/>
<path d="M829.6 316.4 C832.4 317 840.5 317.5 846.7 319.6 C852.9 321.6 860.5 324.5 867 328.9 C873.5 333.3 880.2 340.1 885.7 346.1 C891.2 352 896.1 358.5 899.7 364.8 C903.4 371 905.7 376.1 907.5 383.5 C909.4 390.9 910.7 400.8 910.7 409 C910.7 417.1 909.4 424.3 907.5 432.4 C905.7 440.5 903.1 449 899.7 457.3 C896.4 465.7 891.7 474.2 887.3 482.3 C882.8 490.4 877.4 499.7 873.2 505.7 C869.1 511.7 865.2 515.8 862.3 518.2 C859.4 520.5 857.1 519.5 856.1 519.7" stroke-width="1.3"/>
<path d="M834.2 324.2 C837.1 324.8 845.7 324.8 851.4 327.3 C857.1 329.9 863.9 335.1 868.5 339.8 C873.2 344.5 876.6 350 879.5 355.4 C882.3 360.9 884.4 367.4 885.7 372.6 C887.1 377.8 888.1 383.5 887.6 386.6 C887.1 389.7 883.4 390.5 882.6 391.3" stroke-width="1.3"/>
<path d="M882.6 391.3 L835.8 391.3" stroke-width="1.3"/>
<path d="M835 330.5 C836.4 330.7 839.6 330.2 843.6 332 C847.6 333.8 854.5 337.5 859.2 341.4 C863.9 345.3 868.3 350.2 871.7 355.4 C875 360.6 878 368.8 879.5 372.6 C880.9 376.3 880.2 377 880.4 377.9" stroke-width="2.6"/>
<path d="M837.3 378.5 L880.4 378.2" stroke-width="2.8"/>
<path d="M837.3 332 L837.3 378.5" stroke-width="1.3"/>
<path d="M837.7 336.7 L852.9 336.7" stroke-width="1.1"/>
<path d="M837.7 342.2 L860.7 342.2" stroke-width="1.1"/>
<path d="M837.7 347.6 L865.7 347.6" stroke-width="1.1"/>
<path d="M837.7 360.9 L874 360.9" stroke-width="1.1"/>
<path d="M837.7 367.1 L877.4 367.1" stroke-width="1.1"/>
<path d="M837.7 373.4 L879.5 373.4" stroke-width="1.1"/>
<rect x="844.4" y="350" width="14.8" height="6.2" stroke-width="1.2" fill="#fff" rx="2.8"/>
<rect x="850.6" y="382.7" width="19.5" height="3.9" stroke-width="1.1"/>
<path d="M828.8 407.9 L910.2 407.9" stroke-width="2"/>
<path d="M806.9 504.9 C808.1 504.4 833.4 504.5 834.2 504.9 C835 505.3 831.4 516.1 831.1 516.6 C830.8 517.2 825.9 521.1 824.9 521.3 C823.8 521.5 800.5 521.8 799.9 521.3 C799.3 520.8 805.8 505.5 806.9 504.9 Z" stroke-width="2.8"/>
<path d="M812.4 434.7 L884.1 434.7" stroke-width="2.4"/>
<path d="M884.1 434.7 L877.9 462.3" stroke-width="1.3"/>
<rect x="806.9" y="443.3" width="10.1" height="17.5" stroke-width="1.3" rx="1.2"/>
<rect x="820.2" y="442.5" width="10.1" height="18.2" stroke-width="1.3" rx="1.2"/>
<rect x="834.2" y="441.8" width="10.1" height="19" stroke-width="1.3" rx="1.2"/>
<rect x="847.5" y="441.4" width="28.1" height="20.1" stroke-width="1.3"/>
<rect x="849.2" y="443" width="24.8" height="17" stroke-width="0.8"/>
<rect x="859.2" y="444.6" width="13.7" height="14" stroke-width="1.5" rx="1.2"/>
<rect x="851.4" y="444.6" width="3.4" height="2.8" stroke-width="1"/>
<rect x="850.8" y="450.3" width="4.1" height="8.6" stroke-width="1.2"/>
<path d="M873.2 468.3 C869.6 468.3 805.2 467.9 801.5 468.3 C797.7 468.7 798.5 475 798.4 476.1 C798.2 477.2 797.6 489.4 797.6 490.1" stroke-width="1.3"/>
<path d="M873.2 468.3 L865.4 488.5" stroke-width="1.3"/>
<ellipse cx="819.4" cy="479.2" rx="10.9" ry="5.9" stroke-width="1.3"/>
<rect x="841.2" y="469" width="9.4" height="19" stroke-width="1.3" rx="0.9"/>
<path d="M852.9 469 L864.6 468.6 L864.6 487 L852.9 487 Z" stroke-width="1.3"/>
<path d="M864.6 479.2 L868.5 468.6" stroke-width="1.3"/>
<path d="M605.8 520.4 L787.7 520.3 L791 521.4 L800.1 521.4" stroke-width="1.3"/>
<path d="M825.9 521.3 L859.3 520.9" stroke-width="1.3"/>
<path d="M634 521.3 L641.5 547.8" stroke-width="1.3"/>
<path d="M639 521.3 L644.8 547.8" stroke-width="1.3"/>
<path d="M650.7 521.3 L649.2 547.8" stroke-width="1.3"/>
<path d="M642.9 548.5 C643.9 548.3 656.2 548 657.3 548.2 C658.4 548.4 659 550.3 659.1 551.5 C659.3 552.6 659.6 564.6 659.5 565.6 C659.3 566.7 658.3 567.2 657.3 567.3 C656.3 567.4 645.9 567.5 644.8 567.3 C643.7 567 641.1 564.2 640.9 563.1 C640.6 562.1 640.7 552.5 640.9 551.5 C641 550.5 641.8 548.7 642.9 548.5 Z" stroke-width="2.8" fill="#fff"/>
<rect x="784.7" y="528.6" width="14.3" height="39.2" stroke-width="2.4" stroke-dasharray="5 2.6" rx="6.3" stroke-linecap="butt"/>
<path d="M256.3 187 L256.3 372.3" stroke-width="1.6" stroke-linejoin="miter" stroke-linecap="butt"/>
<circle cx="256.3" cy="372.3" r="2" fill="#1f1f1f" stroke="none"/>
<path d="M456.2 187 L456.2 366.2" stroke-width="1.6" stroke-linejoin="miter" stroke-linecap="butt"/>
<circle cx="456.2" cy="366.2" r="2" fill="#1f1f1f" stroke="none"/>
<path d="M486 187 L486 405.6" stroke-width="1.3" stroke-linejoin="miter" stroke-linecap="butt"/>
<circle cx="486" cy="405.6" r="1.7" fill="#1f1f1f" stroke="none"/>
<path d="M505.8 187 L505.8 312.4" stroke-width="1.3" stroke-linejoin="miter" stroke-linecap="butt"/>
<circle cx="505.8" cy="312.4" r="1.7" fill="#1f1f1f" stroke="none"/>
<path d="M531.8 187 L531.8 373.7" stroke-width="1.6" stroke-linejoin="miter" stroke-linecap="butt"/>
<circle cx="531.8" cy="373.7" r="2" fill="#1f1f1f" stroke="none"/>
<path d="M581.3 187 L581.3 304" stroke-width="1.3" stroke-linejoin="miter" stroke-linecap="butt"/>
<circle cx="581.3" cy="304" r="1.7" fill="#1f1f1f" stroke="none"/>
<path d="M690.6 187 L690.6 318.2" stroke-width="1.3" stroke-linejoin="miter" stroke-linecap="butt"/>
<circle cx="690.6" cy="318.2" r="1.7" fill="#1f1f1f" stroke="none"/>
<path d="M790 187 L790 331.3" stroke-width="1.3" stroke-linejoin="miter" stroke-linecap="butt"/>
<circle cx="790" cy="331.3" r="1.7" fill="#1f1f1f" stroke="none"/>
<path d="M849.7 187 L849.7 345.4" stroke-width="1.3" stroke-linejoin="miter" stroke-linecap="butt"/>
<circle cx="849.7" cy="345.4" r="1.7" fill="#1f1f1f" stroke="none"/>
<path d="M254.8 640 L254.8 460.2" stroke-width="1.8" stroke-linejoin="miter" stroke-linecap="butt"/>
<circle cx="254.8" cy="460.2" r="2" fill="#1f1f1f" stroke="none"/>
<path d="M384.6 640 L384.6 409.5 L453.2 409.5" stroke-width="1.3" stroke-linejoin="miter" stroke-linecap="butt"/>
<circle cx="453.2" cy="409.5" r="1.7" fill="#1f1f1f" stroke="none"/>
<path d="M415.5 640 L415.5 453.7 L444.6 453.7" stroke-width="1.6" stroke-linejoin="miter" stroke-linecap="butt"/>
<circle cx="444.6" cy="453.7" r="2" fill="#1f1f1f" stroke="none"/>
<path d="M445 640 L445 472.2" stroke-width="1.3" stroke-linejoin="miter" stroke-linecap="butt"/>
<circle cx="445" cy="472.2" r="1.7" fill="#1f1f1f" stroke="none"/>
<path d="M484 640 L484 457.6 L499.6 457.6" stroke-width="1.3" stroke-linejoin="miter" stroke-linecap="butt"/>
<circle cx="499.6" cy="457.6" r="1.7" fill="#1f1f1f" stroke="none"/>
<path d="M509.6 640 L509.6 524.7" stroke-width="1.3" stroke-linejoin="miter" stroke-linecap="butt"/>
<circle cx="509.6" cy="524.7" r="1.7" fill="#1f1f1f" stroke="none"/>
<path d="M581.8 640 L581.8 416.8" stroke-width="1.3" stroke-linejoin="miter" stroke-linecap="butt"/>
<circle cx="581.8" cy="416.8" r="1.7" fill="#1f1f1f" stroke="none"/>
<path d="M647.8 637.5 L647.8 557.9" stroke-width="1.8" stroke-linejoin="miter" stroke-linecap="butt"/>
<circle cx="647.8" cy="557.9" r="2" fill="#1f1f1f" stroke="none"/>
<path d="M729.2 637.5 L729.2 393.3" stroke-width="1.3" stroke-linejoin="miter" stroke-linecap="butt"/>
<circle cx="729.2" cy="393.3" r="1.7" fill="#1f1f1f" stroke="none"/>
<path d="M791.2 637.5 L791.2 554.1" stroke-width="1.3" stroke-linejoin="miter" stroke-linecap="butt"/>
<circle cx="791.2" cy="554.1" r="1.7" fill="#1f1f1f" stroke="none"/>
<path d="M820.4 637.5 L820.4 514.1" stroke-width="1.3" stroke-linejoin="miter" stroke-linecap="butt"/>
<circle cx="820.4" cy="514.1" r="1.7" fill="#1f1f1f" stroke="none"/>
</svg>

<div class="t" style="left:966.5px;top:138.12px;font-size:16.4px;color:#231f20;transform:scaleX(1.085);-webkit-text-stroke:0.22px #231f20;">5.</div>
<div class="t" style="left:1001.3px;top:138.12px;font-size:16.4px;letter-spacing:0.865px;color:#231f20;transform:scaleX(1.085);-webkit-text-stroke:0.22px #231f20;">Schalter für Warnblinkanlage (S. 6-2)</div>
<div class="t" style="left:966.5px;top:172.12px;font-size:16.4px;color:#231f20;transform:scaleX(1.085);-webkit-text-stroke:0.22px #231f20;">6.</div>
<div class="t" style="left:1001.3px;top:172.12px;font-size:16.4px;letter-spacing:0.959px;color:#231f20;transform:scaleX(1.085);-webkit-text-stroke:0.22px #231f20;">Mittlere Belüftungsdüsen (S. 4-45)</div>
<div class="t" style="left:966.5px;top:206.12px;font-size:16.4px;color:#231f20;transform:scaleX(1.085);-webkit-text-stroke:0.22px #231f20;">7.</div>
<div class="t" style="left:1001.3px;top:206.12px;font-size:16.4px;letter-spacing:1.151px;color:#231f20;transform:scaleX(1.085);-webkit-text-stroke:0.22px #231f20;">Messinstrumente und</div>
<div class="t" style="left:1001.3px;top:230.12px;font-size:16.4px;letter-spacing:0.821px;color:#231f20;transform:scaleX(1.085);-webkit-text-stroke:0.22px #231f20;">Anzeigevorrichtungen (S. 2-2)</div>
<div class="t" style="left:966.5px;top:264.12px;font-size:16.4px;color:#231f20;transform:scaleX(1.085);-webkit-text-stroke:0.22px #231f20;">8.</div>
<div class="t" style="left:1001.3px;top:264.12px;font-size:16.4px;letter-spacing:0.692px;color:#231f20;transform:scaleX(1.085);-webkit-text-stroke:0.22px #231f20;">Schaltwippe* (S. 5-17)</div>
<div class="t" style="left:966.5px;top:298.12px;font-size:16.4px;color:#231f20;transform:scaleX(1.085);-webkit-text-stroke:0.22px #231f20;">9.</div>
<div class="t" style="left:1001.3px;top:298.12px;font-size:16.4px;letter-spacing:0.955px;color:#231f20;transform:scaleX(1.085);-webkit-text-stroke:0.22px #231f20;">Seitliche Belüftungsdüsen (S. 4-46)</div>
<div class="t" style="left:966.5px;top:332.12px;font-size:16.4px;color:#231f20;transform:scaleX(1.085);-webkit-text-stroke:0.22px #231f20;">10.</div>
<div class="t" style="left:1001.3px;top:332.12px;font-size:16.4px;letter-spacing:0.988px;color:#231f20;transform:scaleX(1.085);-webkit-text-stroke:0.22px #231f20;">Entriegelungsgriff am Handschuhfach</div>
<div class="t" style="left:1001.3px;top:356.12px;font-size:16.4px;letter-spacing:0.670px;color:#231f20;transform:scaleX(1.085);-webkit-text-stroke:0.22px #231f20;">(S. 2-44)</div>
<div class="t" style="left:966.5px;top:390.12px;font-size:16.4px;color:#231f20;transform:scaleX(1.085);-webkit-text-stroke:0.22px #231f20;">11.</div>
<div class="t" style="left:1001.3px;top:390.12px;font-size:16.4px;letter-spacing:0.745px;color:#231f20;transform:scaleX(1.085);-webkit-text-stroke:0.22px #231f20;">Audioanlage (S. 4-52)</div>
<div class="t" style="left:966.5px;top:424.12px;font-size:16.4px;color:#231f20;transform:scaleX(1.085);-webkit-text-stroke:0.22px #231f20;">12.</div>
<div class="t" style="left:1001.3px;top:424.12px;font-size:16.4px;letter-spacing:0.821px;color:#231f20;transform:scaleX(1.085);-webkit-text-stroke:0.22px #231f20;">Heizung und Klimaanlage (S. 4-46)</div>
<div class="t" style="left:966.5px;top:458.12px;font-size:16.4px;color:#231f20;transform:scaleX(1.085);-webkit-text-stroke:0.22px #231f20;">13.</div>
<div class="t" style="left:1001.3px;top:458.12px;font-size:16.4px;letter-spacing:0.843px;color:#231f20;transform:scaleX(1.085);-webkit-text-stroke:0.22px #231f20;">Türverriegelungsanzeigeleuchte* (S. 3-5)</div>
<div class="t" style="left:966.5px;top:492.12px;font-size:16.4px;color:#231f20;transform:scaleX(1.085);-webkit-text-stroke:0.22px #231f20;">14.</div>
<div class="t" style="left:1001.3px;top:492.12px;font-size:16.4px;letter-spacing:0.864px;color:#231f20;transform:scaleX(1.085);-webkit-text-stroke:0.22px #231f20;">Heckscheibenheizungsschalter (S. 2-36)</div>
<div class="t" style="left:966.5px;top:526.12px;font-size:16.4px;color:#231f20;transform:scaleX(1.085);-webkit-text-stroke:0.22px #231f20;">15.</div>
<div class="t" style="left:1001.3px;top:526.12px;font-size:16.4px;letter-spacing:0.947px;color:#231f20;transform:scaleX(1.085);-webkit-text-stroke:0.22px #231f20;">Aschenbecher und Zigarettenanzünder</div>
<div class="t" style="left:1001.3px;top:550.12px;font-size:16.4px;letter-spacing:0.543px;color:#231f20;transform:scaleX(1.085);-webkit-text-stroke:0.22px #231f20;">(S. 2-43)</div>
<div class="t" style="left:966.5px;top:584.12px;font-size:16.4px;color:#231f20;transform:scaleX(1.085);-webkit-text-stroke:0.22px #231f20;">16.</div>
<div class="t" style="left:1001.3px;top:584.12px;font-size:16.4px;letter-spacing:0.785px;color:#231f20;transform:scaleX(1.085);-webkit-text-stroke:0.22px #231f20;">Zündknopfschalter (S. 5-10)</div>
<div class="t" style="left:966.5px;top:618.12px;font-size:16.4px;color:#231f20;transform:scaleX(1.085);-webkit-text-stroke:0.22px #231f20;">17.</div>
<div class="t" style="left:1001.3px;top:618.12px;font-size:16.4px;letter-spacing:1.063px;color:#231f20;transform:scaleX(1.085);-webkit-text-stroke:0.22px #231f20;">Feststellbremspedal</div>
<div class="t" style="left:1001.3px;top:642.12px;font-size:16.4px;letter-spacing:0.484px;color:#231f20;transform:scaleX(1.085);-webkit-text-stroke:0.22px #231f20;">— Bedienung (S. 3-31)</div>
<div class="t" style="left:1001.3px;top:666.12px;font-size:16.4px;letter-spacing:0.537px;color:#231f20;transform:scaleX(1.085);-webkit-text-stroke:0.22px #231f20;">— Kontrolle (S. 8-14)</div>
<div class="t" style="left:966.5px;top:700.12px;font-size:16.4px;color:#231f20;transform:scaleX(1.085);-webkit-text-stroke:0.22px #231f20;">18.</div>
<div class="t" style="left:1001.3px;top:700.12px;font-size:16.4px;letter-spacing:0.819px;color:#231f20;transform:scaleX(1.085);-webkit-text-stroke:0.22px #231f20;">Lenkrad</div>
<div class="t" style="left:1001.3px;top:724.12px;font-size:16.4px;letter-spacing:0.383px;color:#231f20;transform:scaleX(1.085);-webkit-text-stroke:0.22px #231f20;">— Hupe (S. 2-37)</div>
<div class="t" style="left:1001.3px;top:748.12px;font-size:16.4px;letter-spacing:0.569px;color:#231f20;transform:scaleX(1.085);-webkit-text-stroke:0.22px #231f20;">— Zusätzlicher Fahrerairbag (S. 1-35)</div>
<div class="t" style="left:1001.3px;top:772.12px;font-size:16.4px;letter-spacing:0.673px;color:#231f20;transform:scaleX(1.085);-webkit-text-stroke:0.22px #231f20;">— Servolenkung (S. 5-90)</div>
<div class="t" style="left:966.5px;top:806.12px;font-size:16.4px;color:#231f20;transform:scaleX(1.085);-webkit-text-stroke:0.22px #231f20;">19.</div>
<div class="t" style="left:1001.3px;top:806.12px;font-size:16.4px;letter-spacing:0.886px;color:#231f20;transform:scaleX(1.085);-webkit-text-stroke:0.22px #231f20;">Sicherungskastendeckel (S. 8-26)</div>
<div class="t" style="left:966.5px;top:840.12px;font-size:16.4px;color:#231f20;transform:scaleX(1.085);-webkit-text-stroke:0.22px #231f20;">20.</div>
<div class="t" style="left:1001.3px;top:840.12px;font-size:16.4px;letter-spacing:0.967px;color:#231f20;transform:scaleX(1.085);-webkit-text-stroke:0.22px #231f20;">Motorhaubenentriegelungsgriff (S. 3-21)</div>
<div class="t" style="left:967.5px;top:875.12px;font-size:16.4px;letter-spacing:1.007px;color:#231f20;transform:scaleX(1.085);-webkit-text-stroke:0.22px #231f20;">*: falls vorhanden</div>
<div class="t" style="left:60.0px;top:725.75px;font-size:21.2px;letter-spacing:-0.581px;color:#231f20;">RECHTSLENKER</div>
<div class="t" style="left:59.2px;top:761.82px;font-size:16.4px;color:#231f20;transform:scaleX(1.085);-webkit-text-stroke:0.22px #231f20;">1.</div>
<div class="t" style="left:93.6px;top:761.82px;font-size:16.4px;letter-spacing:0.739px;color:#231f20;transform:scaleX(1.085);-webkit-text-stroke:0.22px #231f20;">Zusätzlicher Beifahrerairbag (S. 1-35)</div>
<div class="t" style="left:59.2px;top:795.82px;font-size:16.4px;color:#231f20;transform:scaleX(1.085);-webkit-text-stroke:0.22px #231f20;">2.</div>
<div class="t" style="left:93.6px;top:795.82px;font-size:16.4px;letter-spacing:1.217px;color:#231f20;transform:scaleX(1.085);-webkit-text-stroke:0.22px #231f20;">Multifunktionsbedienschalter der</div>
<div class="t" style="left:93.6px;top:819.82px;font-size:16.4px;letter-spacing:0.925px;color:#231f20;transform:scaleX(1.085);-webkit-text-stroke:0.22px #231f20;">Mittelkonsole (S. 4-3)</div>
<div class="t" style="left:93.6px;top:843.82px;font-size:16.4px;letter-spacing:0.906px;color:#231f20;transform:scaleX(1.085);-webkit-text-stroke:0.22px #231f20;">—Fahrzeuginformations- und Einstellungs-</div>
<div class="t" style="left:93.6px;top:867.82px;font-size:16.4px;letter-spacing:0.639px;color:#231f20;transform:scaleX(1.085);-webkit-text-stroke:0.22px #231f20;">tasten (S. 4-7)</div>
<div class="t" style="left:93.6px;top:891.82px;font-size:16.4px;color:#231f20;transform:scaleX(0.87);-webkit-text-stroke:0.22px #231f20;">—</div>
<div class="t" style="left:122.3px;top:891.82px;font-size:16.4px;letter-spacing:0.722px;color:#231f20;transform:scaleX(1.085);-webkit-text-stroke:0.22px #231f20;">Audioanlage (S. 4-52)</div>
<div class="t" style="left:513.0px;top:726.82px;font-size:16.4px;color:#231f20;transform:scaleX(1.085);-webkit-text-stroke:0.22px #231f20;">3.</div>
<div class="t" style="left:547.6px;top:726.82px;font-size:16.4px;letter-spacing:0.585px;color:#231f20;transform:scaleX(1.085);-webkit-text-stroke:0.22px #231f20;">Uhr (S. 2-42)</div>
<div class="t" style="left:513.0px;top:760.82px;font-size:16.4px;color:#231f20;transform:scaleX(1.085);-webkit-text-stroke:0.22px #231f20;">4.</div>
<div class="t" style="left:547.6px;top:760.82px;font-size:16.4px;letter-spacing:1.150px;color:#231f20;transform:scaleX(1.085);-webkit-text-stroke:0.22px #231f20;">Mittlerer Bildschirm</div>
<div class="t" style="left:547.6px;top:784.82px;font-size:16.4px;color:#231f20;transform:scaleX(0.87);-webkit-text-stroke:0.22px #231f20;">—</div>
<div class="t" style="left:576.3px;top:784.82px;font-size:16.4px;letter-spacing:0.902px;color:#231f20;transform:scaleX(1.085);-webkit-text-stroke:0.22px #231f20;">Around View Monitor* (S. 4-29)</div>
<div class="t" style="left:547.6px;top:808.82px;font-size:16.4px;color:#231f20;transform:scaleX(0.87);-webkit-text-stroke:0.22px #231f20;">—</div>
<div class="t" style="left:576.3px;top:808.82px;font-size:16.4px;letter-spacing:0.803px;color:#231f20;transform:scaleX(1.085);-webkit-text-stroke:0.22px #231f20;">Rückblickanzeige* (S. 4-22)</div>
<div class="t" style="left:547.6px;top:832.82px;font-size:16.4px;color:#231f20;transform:scaleX(0.87);-webkit-text-stroke:0.22px #231f20;">—</div>
<div class="t" style="left:576.3px;top:832.82px;font-size:16.4px;letter-spacing:0.898px;color:#231f20;transform:scaleX(1.085);-webkit-text-stroke:0.22px #231f20;">Navigationssystem* (Wenden Sie sich</div>
<div class="t" style="left:547.6px;top:856.82px;font-size:16.4px;letter-spacing:0.992px;color:#231f20;transform:scaleX(1.085);-webkit-text-stroke:0.22px #231f20;">an die separat gelieferte Betriebsanleitung</div>
<div class="t" style="left:547.6px;top:880.82px;font-size:16.4px;letter-spacing:0.933px;color:#231f20;transform:scaleX(1.085);-webkit-text-stroke:0.22px #231f20;">des Navigationssystems.)</div>
<div class="t" style="left:1115.8px;top:971.92px;font-size:18.4px;font-weight:700;letter-spacing:0.527px;color:#231f20;transform:scaleX(0.93);">Illustrierte Inhaltsangabe</div>
<div class="t" style="left:1347.5px;top:971.84px;font-size:18.5px;letter-spacing:-0.010px;color:#231f20;">0-13</div>
</body></html>
